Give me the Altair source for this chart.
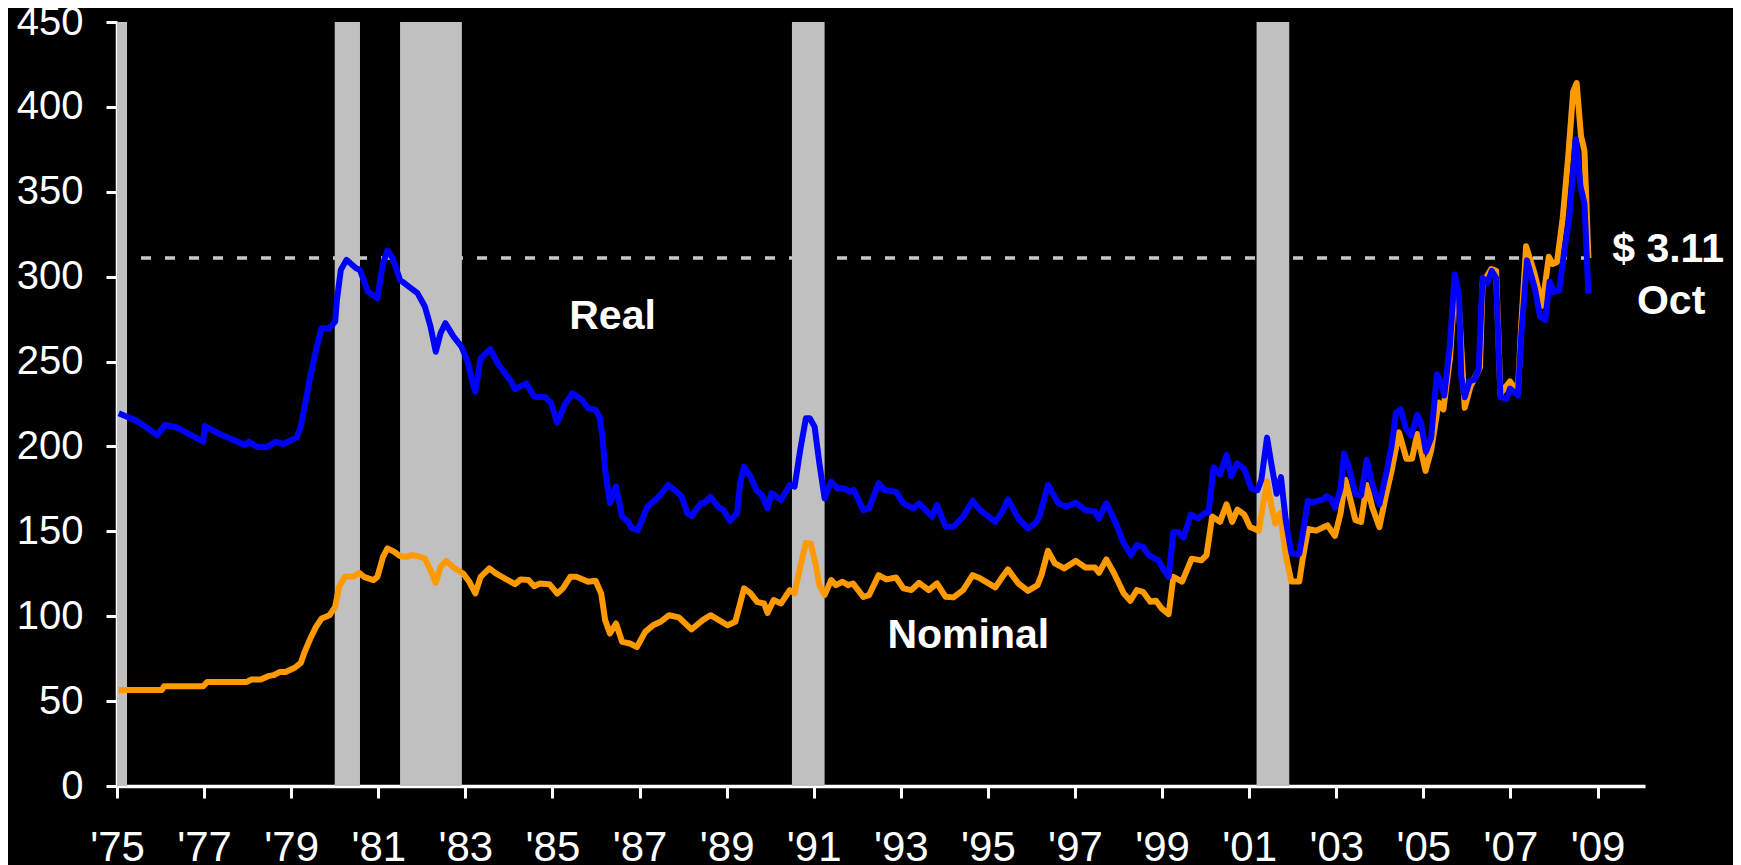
import altair as alt
import pandas as pd

# ---- data ----
real_years = [1975.04, 1975.44, 1975.66, 1975.92, 1976.10, 1976.36, 1976.63, 1976.98, 1977.02, 1977.33,
              1977.64, 1977.94, 1978.03, 1978.21, 1978.43, 1978.65, 1978.82, 1979.13, 1979.22, 1979.31,
              1979.44, 1979.57, 1979.70, 1979.88, 1980.01, 1980.05, 1980.14, 1980.27, 1980.49, 1980.58,
              1980.76, 1980.98, 1981.11, 1981.21, 1981.33, 1981.50, 1981.68, 1981.90, 1982.07, 1982.20,
              1982.32, 1982.43, 1982.54, 1982.73, 1982.91, 1983.04, 1983.17, 1983.23, 1983.35, 1983.57,
              1983.74, 1984.05, 1984.14, 1984.40, 1984.58, 1984.84, 1984.97, 1985.11, 1985.28, 1985.46,
              1985.68, 1985.82, 1985.99, 1986.08, 1986.15, 1986.21, 1986.32, 1986.46, 1986.60, 1986.74,
              1986.82, 1986.96, 1987.18, 1987.31, 1987.48, 1987.66, 1987.88, 1987.97, 1988.10, 1988.20,
              1988.41, 1988.49, 1988.63, 1988.80, 1988.93, 1989.07, 1989.24, 1989.31, 1989.40, 1989.55,
              1989.68, 1989.81, 1989.94, 1990.03, 1990.25, 1990.45, 1990.56, 1990.69, 1990.82, 1990.91,
              1991.02, 1991.13, 1991.25, 1991.40, 1991.55, 1991.70, 1991.83, 1991.92, 1992.14, 1992.27,
              1992.49, 1992.62, 1992.89, 1993.06, 1993.29, 1993.42, 1993.72, 1993.83, 1994.03, 1994.21,
              1994.43, 1994.65, 1994.82, 1995.17, 1995.31, 1995.46, 1995.70, 1995.92, 1996.10, 1996.18,
              1996.38, 1996.62, 1996.80, 1997.02, 1997.24, 1997.46, 1997.55, 1997.72, 1997.94, 1998.12,
              1998.29, 1998.42, 1998.56, 1998.69, 1998.91, 1999.04, 1999.15, 1999.26, 1999.38, 1999.49,
              1999.66, 1999.83, 1999.98, 2000.07, 2000.18, 2000.33, 2000.48, 2000.59, 2000.72, 2000.89,
              2001.05, 2001.19, 2001.28, 2001.41, 2001.51, 2001.63, 2001.73, 2001.84, 2001.97, 2002.15,
              2002.23, 2002.35, 2002.43, 2002.58, 2002.71, 2002.78, 2002.88, 2002.97, 2003.10, 2003.18,
              2003.30, 2003.44, 2003.57, 2003.70, 2003.83, 2003.99, 2004.16, 2004.27, 2004.37, 2004.48,
              2004.60, 2004.72, 2004.86, 2004.94, 2005.06, 2005.18, 2005.31, 2005.39, 2005.48, 2005.61,
              2005.72, 2005.82, 2005.87, 2005.95, 2006.06, 2006.17, 2006.27, 2006.36, 2006.47, 2006.57,
              2006.67, 2006.77, 2006.91, 2006.99, 2007.17, 2007.25, 2007.38, 2007.56, 2007.68, 2007.80,
              2007.90, 2008.00, 2008.12, 2008.23, 2008.35, 2008.50, 2008.61, 2008.70, 2008.79]
real_values = [219.5, 215.2, 211.6, 206.7, 212.6, 211.3, 207.7, 202.8, 212.0, 207.7,
               204.2, 200.8, 202.8, 199.8, 199.5, 202.8, 201.4, 205.4, 211.6, 223.4,
               241.1, 256.8, 269.6, 269.6, 273.5, 286.3, 304.0, 309.9, 305.0, 304.0,
               291.2, 287.3, 307.9, 315.4, 310.9, 298.1, 294.6, 290.3, 282.4, 270.6,
               255.8, 266.7, 272.6, 264.7, 258.8, 250.9, 237.2, 232.3, 251.9, 257.3,
               249.0, 238.2, 233.7, 237.2, 229.3, 229.0, 225.4, 214.0, 224.4, 231.3,
               227.4, 222.5, 221.5, 217.5, 205.7, 186.1, 166.5, 176.3, 158.6, 155.6,
               151.7, 150.7, 164.5, 167.4, 171.4, 177.3, 172.7, 170.4, 160.6, 159.0,
               166.5, 166.5, 170.4, 164.5, 162.5, 156.2, 160.6, 178.3, 188.0, 182.2,
               174.3, 171.4, 163.5, 172.4, 168.4, 177.3, 176.3, 197.9, 216.6, 216.6,
               211.6, 190.1, 169.4, 179.2, 175.3, 175.3, 173.3, 174.3, 162.5, 163.5,
               178.3, 174.3, 173.3, 166.5, 163.5, 166.5, 158.6, 165.5, 152.7, 152.7,
               158.6, 168.0, 162.5, 155.6, 160.6, 168.8, 157.6, 151.7, 155.0, 158.6,
               177.3, 166.5, 164.5, 166.8, 162.5, 161.5, 157.6, 166.5, 154.7, 142.9,
               136.0, 141.9, 140.9, 136.0, 133.0, 127.2, 123.2, 149.4, 149.4, 146.3,
               159.8, 157.6, 160.8, 161.2, 187.6, 183.5, 194.9, 182.4, 190.1, 186.6,
               175.2, 174.2, 180.4, 205.2, 189.7, 172.1, 181.9, 156.6, 137.0, 136.6,
               148.4, 168.0, 166.9, 168.0, 169.0, 170.7, 169.0, 163.9, 175.3, 195.9,
               186.6, 172.1, 171.1, 192.2, 177.3, 165.9, 185.6, 200.0, 219.7, 221.8,
               210.4, 206.3, 218.6, 214.5, 196.9, 205.2, 242.5, 238.3, 230.0, 260.0,
               301.3, 289.0, 241.4, 229.0, 238.3, 239.3, 245.5, 299.3, 296.2, 303.4,
               299.3, 229.0, 228.0, 234.1, 230.0, 266.2, 309.6, 293.1, 276.5, 274.5,
               297.2, 291.0, 292.0, 313.8, 334.4, 381.0, 353.0, 343.0, 290.0]

nominal_years = [1975.04, 1976.03, 1976.08, 1976.98, 1977.07, 1977.98, 1978.08, 1978.30, 1978.47, 1978.60,
                 1978.74, 1978.87, 1979.09, 1979.22, 1979.31, 1979.44, 1979.57, 1979.70, 1979.88, 1980.01,
                 1980.10, 1980.23, 1980.45, 1980.56, 1980.67, 1980.89, 1980.98, 1981.11, 1981.21, 1981.37,
                 1981.50, 1981.64, 1981.77, 1981.90, 1982.07, 1982.20, 1982.32, 1982.43, 1982.56, 1982.73,
                 1982.95, 1983.09, 1983.23, 1983.35, 1983.55, 1983.70, 1984.14, 1984.27, 1984.45, 1984.58,
                 1984.71, 1984.93, 1985.11, 1985.24, 1985.41, 1985.55, 1985.82, 1985.99, 1986.12, 1986.21,
                 1986.32, 1986.46, 1986.60, 1986.78, 1986.94, 1987.13, 1987.31, 1987.48, 1987.68, 1987.90,
                 1988.01, 1988.19, 1988.45, 1988.63, 1989.02, 1989.20, 1989.40, 1989.55, 1989.70, 1989.86,
                 1989.94, 1990.08, 1990.25, 1990.45, 1990.56, 1990.69, 1990.82, 1990.93, 1991.04, 1991.13,
                 1991.25, 1991.40, 1991.51, 1991.66, 1991.79, 1991.90, 1992.14, 1992.27, 1992.49, 1992.67,
                 1992.89, 1993.06, 1993.24, 1993.42, 1993.64, 1993.83, 1994.03, 1994.21, 1994.43, 1994.65,
                 1994.82, 1995.17, 1995.31, 1995.46, 1995.70, 1995.92, 1996.14, 1996.23, 1996.38, 1996.54,
                 1996.75, 1997.02, 1997.24, 1997.46, 1997.55, 1997.72, 1997.90, 1998.12, 1998.27, 1998.42,
                 1998.56, 1998.73, 1998.86, 1998.99, 1999.15, 1999.26, 1999.46, 1999.68, 1999.90, 2000.02,
                 2000.15, 2000.33, 2000.48, 2000.61, 2000.73, 2000.89, 2001.02, 2001.22, 2001.41, 2001.51,
                 2001.60, 2001.71, 2001.84, 2001.97, 2002.15, 2002.23, 2002.35, 2002.54, 2002.71, 2002.80,
                 2002.97, 2003.10, 2003.21, 2003.32, 2003.44, 2003.57, 2003.70, 2003.83, 2003.99, 2004.14,
                 2004.27, 2004.44, 2004.61, 2004.74, 2004.86, 2005.05, 2005.18, 2005.35, 2005.46, 2005.61,
                 2005.72, 2005.82, 2005.95, 2006.08, 2006.30, 2006.36, 2006.56, 2006.67, 2006.77, 2006.99,
                 2007.17, 2007.25, 2007.36, 2007.56, 2007.73, 2007.88, 2007.97, 2008.07, 2008.20, 2008.33,
                 2008.44, 2008.52, 2008.62, 2008.70, 2008.79]
nominal_values = [56.6, 56.6, 58.8, 58.8, 61.3, 61.3, 62.7, 62.7, 64.7, 65.3,
                  67.2, 67.2, 69.8, 72.5, 79.0, 86.9, 93.7, 98.7, 100.6, 105.5,
                  117.3, 123.2, 123.6, 125.6, 123.2, 121.3, 123.2, 135.0, 140.0, 137.9,
                  135.4, 135.0, 136.0, 135.4, 134.0, 127.2, 119.7, 129.1, 132.6, 128.7,
                  125.2, 120.3, 113.4, 123.2, 128.2, 125.2, 118.9, 121.7, 121.3, 117.7,
                  119.3, 118.9, 113.4, 116.4, 123.2, 123.2, 120.3, 120.9, 113.4, 97.7,
                  89.8, 95.7, 84.9, 83.9, 81.9, 90.8, 94.7, 96.7, 100.6, 99.3,
                  96.7, 92.2, 97.7, 100.6, 94.7, 96.7, 116.4, 113.4, 108.5, 107.5,
                  102.0, 109.5, 107.5, 115.4, 113.4, 129.1, 143.2, 142.9, 131.1, 118.3,
                  112.4, 121.3, 118.3, 120.3, 118.3, 119.3, 111.4, 112.4, 124.2, 121.7,
                  122.8, 116.4, 115.4, 119.7, 115.4, 119.3, 111.4, 111.1, 115.4, 124.2,
                  122.3, 117.0, 122.3, 127.6, 119.3, 114.9, 118.3, 124.2, 138.5, 131.1,
                  128.2, 132.6, 128.7, 128.7, 125.6, 133.5, 125.2, 113.4, 109.1, 115.4,
                  114.4, 108.5, 109.1, 104.6, 101.2, 123.2, 120.4, 133.9, 132.9, 135.9,
                  158.7, 155.6, 165.9, 155.6, 162.8, 159.8, 152.5, 150.4, 179.4, 164.9,
                  154.6, 160.8, 135.9, 120.4, 120.4, 133.9, 151.4, 150.4, 152.5, 153.5,
                  147.3, 160.8, 180.4, 169.0, 156.6, 155.6, 177.3, 163.9, 152.5, 171.1,
                  185.6, 208.3, 192.8, 192.8, 207.3, 185.6, 197.9, 225.9, 221.8, 251.7,
                  293.1, 280.7, 222.8, 235.2, 246.6, 296.2, 304.5, 303.4, 231.1, 238.3,
                  232.1, 272.4, 317.9, 301.3, 282.8, 311.7, 307.5, 308.6, 334.4, 371.7,
                  409.0, 414.0, 383.0, 374.0, 311.0]

recession_start = [1975.0, 1980.0, 1981.5, 1990.5, 2001.17]
recession_end = [1975.23, 1980.58, 1982.92, 1991.25, 2001.92]

tick_years = [1975, 1977, 1979, 1981, 1983, 1985, 1987, 1989, 1991, 1993, 1995, 1997, 1999,
              2001, 2003, 2005, 2007, 2009]
y_ticks = [0, 50, 100, 150, 200, 250, 300, 350, 400, 450]

current_price = 311
current_start = 1975.0
current_end = 2008.79

label_texts = ["Real", "Nominal", "$ 3.11", "Oct"]
label_years = [1986.38, 1994.55, 2010.62, 2010.69]
label_values = [276.5, 88.5, 315.5, 285.0]

x_domain = [1975.0, 2010.09]
y_domain = [0, 450]

# ---- tables ----
real_df = pd.DataFrame({"year": real_years, "value": real_values})
nom_df = pd.DataFrame({"year": nominal_years, "value": nominal_values})
rec_df = pd.DataFrame({"start": recession_start, "end": recession_end})
rule_df = pd.DataFrame({"start": [current_start], "end": [current_end], "value": [current_price]})
lab_df = pd.DataFrame({"year": label_years, "value": label_values, "text": label_texts})

FONT = "Liberation Sans"
xs = alt.Scale(domain=x_domain, nice=False, zero=False)
ys = alt.Scale(domain=y_domain, nice=False, zero=True)

x_axis = alt.Axis(values=tick_years, labelExpr="\"'\" + slice(toString(datum.value), 2)",
                  title=None, grid=False, domainColor="white", domainWidth=3.5,
                  tickColor="white", tickWidth=3, tickSize=12, labelColor="white",
                  labelFontSize=42, labelFont=FONT, labelPadding=29, labelFlush=False,
                  labelOverlap=False)
y_axis = alt.Axis(values=y_ticks, title=None, grid=False, domainColor="white", domainWidth=3.5,
                  tickColor="white", tickWidth=3, tickSize=11, labelColor="white",
                  labelFontSize=40, labelFont=FONT, labelPadding=23, labelFlush=False,
                  labelOverlap=False)


def X(field):
    return alt.X(field, type="quantitative", scale=xs, axis=x_axis)


def Y(field):
    return alt.Y(field, type="quantitative", scale=ys, axis=y_axis)


rule = alt.Chart(rule_df).mark_rule(color="#C8C8C8", strokeWidth=3.5, strokeDash=[10, 14]).encode(
    x=X("start"), x2="end", y=Y("value"))

bands = alt.Chart(rec_df).mark_rect(color="#C0C0C0").encode(
    x=X("start"), x2="end", y=alt.value(0), y2=alt.value(764))

nominal = alt.Chart(nom_df).mark_line(color="#FF9900", strokeWidth=6, strokeJoin="round").encode(
    x=X("year"), y=Y("value"))

real = alt.Chart(real_df).mark_line(color="#0000FF", strokeWidth=6, strokeJoin="round").encode(
    x=X("year"), y=Y("value"))

labels = alt.Chart(lab_df).mark_text(font=FONT, fontSize=41, fontWeight="bold", color="white",
                                     align="center", baseline="middle").encode(
    x=X("year"), y=Y("value"), text="text:N")

chart = alt.layer(rule, bands, nominal, real, labels).properties(
    width=1528, height=764,
    padding={"left": 109, "top": 14, "right": 88, "bottom": 79},
    autosize=alt.AutoSizeParams(type="none"),
    background="black",
).configure_view(strokeWidth=0)

chart.save("out.html", embed_options={"renderer": "svg", "actions": False})
